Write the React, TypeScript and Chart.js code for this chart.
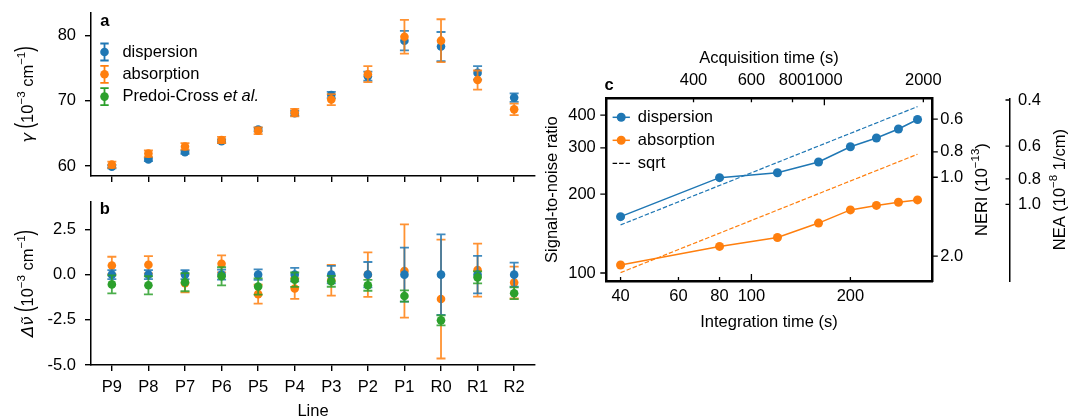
import React, { useEffect, useRef } from "react";
import { Chart, registerables } from "chart.js";

Chart.register(...registerables);

const FONT = "'Liberation Sans', Arial, Helvetica, sans-serif";
const MATH = "'DejaVu Sans', sans-serif";
const FS = 16.5;
const F = `${FS}px ${FONT}`;
const FI = `italic ${FS}px ${FONT}`;
const FB = `bold ${FS}px ${FONT}`;
const FSUP = `11.5px ${FONT}`;
const FMI = `italic ${FS}px ${MATH}`;

const BLUE = "#1f77b4";
const ORANGE = "#ff7f0e";
const GREEN = "#2ca02c";

// ---------- data ----------
const lineNames = ["P9", "P8", "P7", "P6", "P5", "P4", "P3", "P2", "P1", "R0", "R1", "R2"];

const gammaDisp = [59.9, 61.0, 62.1, 63.8, 65.6, 68.1, 70.9, 73.8, 79.25, 78.35, 74.3, 70.5];
const gammaDispErr = [0.25, 0.25, 0.25, 0.28, 0.29, 0.37, 0.48, 0.7, 1.5, 2.23, 1.04, 0.66];
const gammaAbs = [60.2, 61.9, 63.0, 64.0, 65.4, 68.2, 70.2, 74.1, 79.85, 79.25, 73.2, 68.7];
const gammaAbsErr = [0.48, 0.48, 0.5, 0.47, 0.52, 0.57, 0.85, 1.23, 2.6, 3.29, 1.47, 0.88];

const shiftDisp = [0, 0, 0, 0, 0, 0, 0, 0, 0, 0, 0, 0];
const shiftDispErr = [0.25, 0.25, 0.25, 0.28, 0.29, 0.37, 0.48, 0.7, 1.49, 2.23, 1.04, 0.66];
const shiftAbs = [0.51, 0.55, -0.48, 0.6, -1.08, -0.77, -0.31, 0.0, 0.2, -1.35, 0.25, -0.44];
const shiftAbsErr = [0.48, 0.48, 0.5, 0.47, 0.52, 0.57, 0.85, 1.23, 2.58, 3.29, 1.47, 0.88];
const shiftPredoi = [-0.54, -0.59, -0.42, -0.09, -0.66, -0.28, -0.37, -0.59, -1.18, -2.53, -0.15, -1.03];
const shiftPredoiErr = [0.5, 0.5, 0.5, 0.5, 0.45, 0.4, 0.3, 0.3, 0.31, 0.28, 0.33, 0.33];

const intTime = [40, 80, 120, 160, 200, 240, 280, 320];
const snrDisp = [164, 231, 241, 265, 303, 327, 354, 385];
const snrAbs = [107.3, 126.3, 136.5, 155, 174, 181, 186, 190];
const sqrtTime = [40, 320];
const sqrtDisp = [152.5, 431];
const sqrtAbs = [100.3, 283.7];

const gammaTicks = [60, 70, 80];
const shiftTicks = [-5, -2.5, 0, 2.5];
const intTicks = [40, 60, 80, 100, 200];
const acqTicks = [400, 600, 800, 1000, 2000];
const snrTicks = [100, 200, 300, 400];
const neriTicks = [0.6, 0.8, 1.0, 2.0];
const neaTicks = [0.4, 0.6, 0.8, 1.0];

// ---------- helpers ----------
type Part = { t: string; f: string; dy?: number; sy?: number };
function drawRich(ctx: CanvasRenderingContext2D, parts: Part[], x: number, y: number, rot = 0, align: "center" | "left" = "center") {
  ctx.save();
  ctx.translate(x, y);
  if (rot) ctx.rotate(rot);
  let total = 0;
  const widths = parts.map((p) => {
    ctx.font = p.f;
    const w = ctx.measureText(p.t).width;
    total += w;
    return w;
  });
  let cx = align === "center" ? -total / 2 : 0;
  ctx.textBaseline = "middle";
  ctx.textAlign = "left";
  ctx.fillStyle = "#000";
  parts.forEach((p, i) => {
    ctx.font = p.f;
    ctx.save();
    ctx.translate(cx, p.dy || 0);
    if (p.sy) ctx.scale(1, p.sy);
    ctx.fillText(p.t, 0, 0);
    ctx.restore();
    cx += widths[i];
  });
  ctx.restore();
}

const noPad = (s: any) => {
  s.paddingLeft = 0;
  s.paddingRight = 0;
  s.paddingTop = 0;
  s.paddingBottom = 0;
};
const fitW = (w: number) => (s: any) => {
  s.width = w;
  noPad(s);
};
const fitH = (h: number) => (s: any) => {
  s.height = h;
  noPad(s);
};
const fixedTicks = (vals: number[]) => (s: any) => {
  s.ticks = vals.map((v) => ({ value: v }));
};

const tickFont = { family: FONT, size: FS };

const errorBars = {
  id: "errorBars",
  beforeDatasetDraw(chart: any, args: any) {
    const ds: any = chart.data.datasets[args.index];
    if (!ds.errors) return;
    const meta = args.meta;
    const ys = chart.scales[meta.yAxisID];
    const ctx = chart.ctx;
    ctx.save();
    ctx.strokeStyle = ds.backgroundColor;
    ctx.globalAlpha = 0.85;
    ctx.lineWidth = 1.8;
    meta.data.forEach((pt: any, i: number) => {
      const raw = ds.data[i];
      const e = ds.errors[i];
      const x = pt.x;
      const y1 = ys.getPixelForValue(raw.y + e);
      const y2 = ys.getPixelForValue(raw.y - e);
      ctx.beginPath();
      ctx.moveTo(x, y1);
      ctx.lineTo(x, y2);
      ctx.moveTo(x - 4.5, y1);
      ctx.lineTo(x + 4.5, y1);
      ctx.moveTo(x - 4.5, y2);
      ctx.lineTo(x + 4.5, y2);
      ctx.stroke();
    });
    ctx.restore();
  },
};

const pts = (vals: number[]) => vals.map((v, i) => ({ x: i, y: vals[i] }));

function scatterDs(vals: number[], errs: number[], color: string, order: number) {
  return {
    data: pts(vals),
    errors: errs,
    backgroundColor: color,
    borderColor: color,
    pointRadius: 4.3,
    pointHoverRadius: 4.3,
    pointBorderWidth: 0,
    order,
  };
}

function catAxis(labels: boolean, height: number, padding: number) {
  return {
    type: "linear",
    min: -0.57,
    max: 11.57,
    bounds: "data",
    afterBuildTicks: fixedTicks(lineNames.map((_, i) => i)),
    afterFit: fitH(height),
    ticks: {
      callback: (v: number) => (labels ? lineNames[Math.round(v)] ?? "" : ""),
      autoSkip: false,
      maxRotation: 0,
      minRotation: 0,
      color: "#000",
      font: tickFont,
      padding,
    },
    grid: { drawOnChartArea: false, drawTicks: true, tickLength: 6, color: "#000", lineWidth: 1.4 },
    border: { display: true, color: "#000", width: 1.5 },
  };
}

function valAxis(min: number, max: number, ticks: number[], fmt: (v: number) => string) {
  return {
    type: "linear",
    min,
    max,
    bounds: "data",
    afterBuildTicks: fixedTicks(ticks),
    afterFit: fitW(50),
    ticks: { callback: (v: number) => fmt(v), color: "#000", font: tickFont, padding: 9, autoSkip: false },
    grid: { drawOnChartArea: false, drawTicks: true, tickLength: 6, color: "#000", lineWidth: 1.4 },
    border: { display: true, color: "#000", width: 1.5 },
  };
}

function yLabelParts(prefix: Part[]): Part[] {
  return [
    ...prefix,
    { t: " ", f: F },
    { t: "(", f: F, dy: -2, sy: 1.55 },
    { t: "10", f: F },
    { t: "\u22123", f: FSUP, dy: -6 },
    { t: " cm", f: F },
    { t: "\u22121", f: FSUP, dy: -6 },
    { t: ")", f: F, dy: -2, sy: 1.55 },
  ];
}

// ---------- panel a ----------
function configA() {
  return {
    type: "scatter",
    data: {
      datasets: [scatterDs(gammaDisp, gammaDispErr, BLUE, 2), scatterDs(gammaAbs, gammaAbsErr, ORANGE, 1)],
    },
    options: {
      responsive: false,
      animation: false,
      devicePixelRatio: 1,
      events: [],
      layout: { padding: { left: 41, right: 5, top: 13, bottom: 0 } },
      plugins: { legend: { display: false }, tooltip: { enabled: false } },
      scales: {
        x: catAxis(false, 14, 0),
        y: valAxis(58.46, 83.5, gammaTicks, (v) => String(v)),
      },
    },
    plugins: [
      errorBars,
      {
        id: "decoA",
        afterDraw(chart: any) {
          const ctx = chart.ctx as CanvasRenderingContext2D;
          drawRich(ctx, [{ t: "a", f: FB }], 104.8, 21, 0);
          drawRich(ctx, yLabelParts([{ t: "\u03b3", f: FMI }]), 28.3, 94.5, -Math.PI / 2);
          const items: { c: string; parts: Part[] }[] = [
            { c: BLUE, parts: [{ t: "dispersion", f: F }] },
            { c: ORANGE, parts: [{ t: "absorption", f: F }] },
            { c: GREEN, parts: [{ t: "Predoi-Cross ", f: F }, { t: "et al.", f: FI }] },
          ];
          const ys = [52, 74.3, 96.6];
          const mx = 104.5;
          items.forEach((it, i) => {
            const y = ys[i];
            ctx.save();
            ctx.strokeStyle = it.c;
            ctx.fillStyle = it.c;
            ctx.lineWidth = 1.8;
            ctx.beginPath();
            ctx.moveTo(mx, y - 8.5);
            ctx.lineTo(mx, y + 8.5);
            ctx.moveTo(mx - 4.2, y - 8.5);
            ctx.lineTo(mx + 4.2, y - 8.5);
            ctx.moveTo(mx - 4.2, y + 8.5);
            ctx.lineTo(mx + 4.2, y + 8.5);
            ctx.stroke();
            ctx.beginPath();
            ctx.arc(mx, y, 4.3, 0, Math.PI * 2);
            ctx.fill();
            ctx.restore();
            drawRich(ctx, it.parts, 122.4, y, 0, "left");
          });
        },
      },
    ],
  };
}

// ---------- panel b ----------
function configB() {
  return {
    type: "scatter",
    data: {
      datasets: [
        scatterDs(shiftAbs, shiftAbsErr, ORANGE, 3),
        scatterDs(shiftDisp, shiftDispErr, BLUE, 2),
        scatterDs(shiftPredoi, shiftPredoiErr, GREEN, 1),
      ],
    },
    options: {
      responsive: false,
      animation: false,
      devicePixelRatio: 1,
      events: [],
      layout: { padding: { left: 41, right: 5, top: 12, bottom: 13 } },
      plugins: { legend: { display: false }, tooltip: { enabled: false } },
      scales: {
        x: catAxis(true, 40, 7),
        y: valAxis(-5, 4.02, shiftTicks, (v) => v.toFixed(1)),
      },
    },
    plugins: [
      errorBars,
      {
        id: "decoB",
        afterDraw(chart: any) {
          const ctx = chart.ctx as CanvasRenderingContext2D;
          drawRich(ctx, [{ t: "b", f: FB }], 104.8, 19.9, 0);
          drawRich(ctx, [{ t: "Line", f: F }], 313, 221, 0);
          drawRich(
            ctx,
            yLabelParts([
              { t: "\u0394", f: FMI },
              { t: "\u03bd\u0303", f: FMI },
            ]),
            28.3,
            93.5,
            -Math.PI / 2
          );
        },
      },
    ],
  };
}

// ---------- panel c ----------
function logAxis(opts: any) {
  const { position, min, max, ticks, fmt, size, padding, borderWidth, reverse, weight } = opts;
  const horiz = position === "top" || position === "bottom";
  return {
    type: "logarithmic",
    position,
    min,
    max,
    reverse: !!reverse,
    weight: weight || 0,
    bounds: "data",
    afterBuildTicks: fixedTicks(ticks),
    afterFit: horiz ? fitH(size) : fitW(size),
    ticks: { callback: (v: number) => fmt(v), color: "#000", font: tickFont, padding, autoSkip: false, maxRotation: 0 },
    grid: { display: true, drawOnChartArea: false, drawTicks: false, color: "rgba(0,0,0,0)" },
    border: { display: true, color: "#000", width: borderWidth },
  };
}

function configC() {
  const xy = (xs: number[], ys: number[]) => xs.map((x, i) => ({ x, y: ys[i] }));
  const solid = (ys: number[], c: string, order: number) => ({
    data: xy(intTime, ys),
    showLine: true,
    borderColor: c,
    backgroundColor: c,
    borderWidth: 1.5,
    pointRadius: 4.5,
    pointHoverRadius: 4.5,
    pointBorderWidth: 0,
    order,
  });
  const dashed = (ys: number[], c: string, order: number) => ({
    data: xy(sqrtTime, ys),
    showLine: true,
    borderColor: c,
    backgroundColor: c,
    borderWidth: 1.2,
    borderDash: [4.5, 2],
    pointRadius: 0,
    pointHoverRadius: 0,
    order,
  });
  const fmt1 = (v: number) => v.toFixed(1);
  const fmt0 = (v: number) => String(v);
  return {
    type: "scatter",
    data: {
      datasets: [solid(snrDisp, BLUE, 4), solid(snrAbs, ORANGE, 3), dashed(sqrtDisp, BLUE, 2), dashed(sqrtAbs, ORANGE, 1)],
    },
    options: {
      responsive: false,
      animation: false,
      devicePixelRatio: 1,
      events: [],
      layout: { padding: { left: 15.8, right: 10, top: 58.3, bottom: 19 } },
      plugins: { legend: { display: false }, tooltip: { enabled: false } },
      scales: {
        x: logAxis({ position: "bottom", min: 36.07, max: 354.9, ticks: intTicks, fmt: fmt0, size: 40, padding: 6, borderWidth: 2.5 }),
        x2: logAxis({ position: "top", min: 216.4, max: 2129.4, ticks: acqTicks, fmt: fmt0, size: 40, padding: 8, borderWidth: 2.5 }),
        y: logAxis({ position: "left", min: 93.2, max: 463.6, ticks: snrTicks, fmt: fmt0, size: 50, padding: 10, borderWidth: 2.5 }),
        y2: logAxis({ position: "right", min: 0.5, max: 2.487, ticks: neriTicks, fmt: fmt1, size: 77.7, padding: 8, borderWidth: 2.5, reverse: true, weight: 1 }),
        y3: logAxis({ position: "right", min: 0.394, max: 1.96, ticks: neaTicks, fmt: fmt1, size: 50, padding: 8, borderWidth: 1.5, reverse: true, weight: 2 }),
      },
    },
    plugins: [
      {
        id: "decoC",
        afterDraw(chart: any) {
          const ctx = chart.ctx as CanvasRenderingContext2D;
          const a = chart.chartArea;
          const s = chart.scales;
          ctx.save();
          ctx.strokeStyle = "#000";
          ctx.lineWidth = 1.3;
          ctx.beginPath();
          intTicks.forEach((v) => {
            const px = s.x.getPixelForValue(v);
            const L = v === 100 ? 7 : 4;
            ctx.moveTo(px, a.bottom);
            ctx.lineTo(px, a.bottom - L);
          });
          acqTicks.forEach((v) => {
            const px = s.x2.getPixelForValue(v);
            const L = v === 1000 ? 7 : 4;
            ctx.moveTo(px, a.top);
            ctx.lineTo(px, a.top + L);
          });
          snrTicks.forEach((v) => {
            const py = s.y.getPixelForValue(v);
            ctx.moveTo(a.left, py);
            ctx.lineTo(a.left - 5.5, py);
          });
          neriTicks.forEach((v) => {
            const py = s.y2.getPixelForValue(v);
            ctx.moveTo(a.right, py);
            ctx.lineTo(a.right + 5.5, py);
          });
          neaTicks.forEach((v) => {
            const py = s.y3.getPixelForValue(v);
            ctx.moveTo(s.y3.left, py);
            ctx.lineTo(s.y3.left - 4.5, py);
          });
          ctx.stroke();
          ctx.restore();

          // legend
          const leg = [
            { c: BLUE, t: "dispersion", dash: false, y: 117.3 },
            { c: ORANGE, t: "absorption", dash: false, y: 140.3 },
            { c: "#000", t: "sqrt", dash: true, y: 163.3 },
          ];
          leg.forEach((it) => {
            ctx.save();
            ctx.strokeStyle = it.c;
            ctx.fillStyle = it.c;
            ctx.lineWidth = it.dash ? 1.2 : 1.5;
            if (it.dash) ctx.setLineDash([4.5, 2]);
            ctx.beginPath();
            ctx.moveTo(72.6, it.y);
            ctx.lineTo(89.9, it.y);
            ctx.stroke();
            if (!it.dash) {
              ctx.beginPath();
              ctx.arc(81.2, it.y, 4.5, 0, Math.PI * 2);
              ctx.fill();
            }
            ctx.restore();
            drawRich(ctx, [{ t: it.t, f: F }], 97.8, it.y, 0, "left");
          });

          drawRich(ctx, [{ t: "c", f: FB }], 69, 85.5, 0);
          drawRich(ctx, [{ t: "Acquisition time (s)", f: F }], 229, 58.5, 0);
          drawRich(ctx, [{ t: "Integration time (s)", f: F }], 229, 322.4, 0);
          drawRich(ctx, [{ t: "Signal-to-noise ratio", f: F }], 12.4, 189.6, -Math.PI / 2);
          drawRich(
            ctx,
            [
              { t: "NERI (10", f: F },
              { t: "\u221213", f: FSUP, dy: -6 },
              { t: ")", f: F },
            ],
            442,
            189.6,
            -Math.PI / 2
          );
          drawRich(
            ctx,
            [
              { t: "NEA (10", f: F },
              { t: "\u22128", f: FSUP, dy: -6 },
              { t: " 1/cm)", f: F },
            ],
            520,
            189.6,
            -Math.PI / 2
          );
        },
      },
    ],
  };
}

export default function App() {
  const refA = useRef<HTMLCanvasElement>(null);
  const refB = useRef<HTMLCanvasElement>(null);
  const refC = useRef<HTMLCanvasElement>(null);
  useEffect(() => {
    const charts = [
      new Chart(refA.current as HTMLCanvasElement, configA() as any),
      new Chart(refB.current as HTMLCanvasElement, configB() as any),
      new Chart(refC.current as HTMLCanvasElement, configC() as any),
    ];
    return () => charts.forEach((c) => c.destroy());
  }, []);
  const cs = (l: number, t: number, w: number, h: number): React.CSSProperties => ({
    position: "absolute",
    left: l,
    top: t,
    width: w,
    height: h,
  });
  return (
    <div style={{ position: "absolute", left: 0, top: 0, width: 1070, height: 418, background: "#fff" }}>
      <canvas ref={refA} width={540} height={190} style={cs(0, 0, 540, 190)} />
      <canvas ref={refB} width={540} height={228} style={cs(0, 190, 540, 228)} />
      <canvas ref={refC} width={530} height={340} style={cs(540, 0, 530, 340)} />
    </div>
  );
}
